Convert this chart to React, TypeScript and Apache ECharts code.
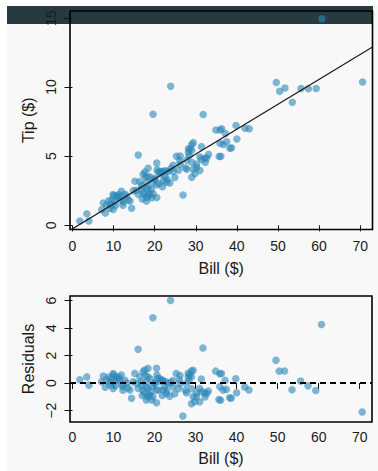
import React, { useEffect, useRef } from "react";
import * as echarts from "echarts";

const bill = [
  1.8, 3.5, 4.0, 7.1, 7.5, 8.0, 8.3, 8.8, 9.1, 9.3, 9.5, 9.9, 9.9, 10.0, 10.2, 10.5, 10.7, 11.0, 11.3, 11.5,
  11.9, 12.0, 12.3, 12.3, 12.8, 13.2, 13.5, 14.0, 14.4, 14.8, 15.2, 15.6, 16.0, 16.0, 16.4, 16.8, 16.8, 17.0, 17.2, 17.2,
  17.5, 17.6, 17.8, 18.0, 18.0, 18.0, 18.2, 18.4, 18.4, 18.4, 18.6, 18.8, 19.0, 19.2, 19.3, 19.5, 19.6, 19.6, 20.0, 20.1,
  20.5, 20.5, 20.5, 20.6, 20.8, 21.0, 21.3, 21.5, 21.7, 21.9, 22.1, 22.1, 22.5, 22.8, 22.9, 23.0, 23.3, 23.7, 23.9, 24.0,
  24.5, 24.5, 24.9, 25.3, 25.8, 26.1, 26.2, 26.2, 26.9, 27.5, 27.8, 27.8, 28.2, 28.2, 28.4, 28.6, 29.0, 29.0, 29.0, 29.0,
  29.4, 29.4, 29.8, 30.2, 30.2, 31.0, 31.0, 31.4, 31.4, 31.8, 32.2, 32.3, 32.7, 33.1, 34.9, 35.9, 36.3, 35.9, 35.7, 36.1,
  36.7, 37.2, 37.5, 38.3, 38.7, 39.8, 40.0, 42.0, 43.0, 49.6, 50.4, 51.7, 53.5, 55.6, 57.4, 59.3, 60.7, 70.6,
];
const tip = [
  0.32, 0.83, 0.32, 1.13, 1.61, 0.89, 1.46, 1.78, 1.24, 1.47, 1.8, 2.23, 1.14, 2.15, 1.69, 1.44, 2.14, 2.03, 2.23, 2.04,
  2.47, 1.81, 1.69, 1.45, 2.25, 2.11, 1.83, 1.76, 1.23, 2.51, 3.19, 2.54, 5.08, 2.24, 3.16, 2.62, 2.87, 1.91, 3.67, 2.34,
  2.2, 3.86, 3.5, 3.09, 2.69, 1.76, 2.03, 4.13, 3.52, 2.67, 2.2, 2.26, 3.47, 2.61, 1.99, 3.06, 2.29, 8.03, 3.35, 3.35,
  4.51, 2.93, 2.01, 4.04, 3.84, 3.03, 3.89, 3.72, 3.88, 2.79, 3.92, 3.22, 3.53, 3.95, 3.12, 3.34, 3.89, 3.06, 10.05, 4.12,
  4.35, 3.89, 3.46, 5.0, 3.99, 4.67, 5.02, 4.42, 2.19, 4.17, 4.73, 4.05, 5.53, 5.26, 5.05, 5.53, 5.84, 5.43, 4.56, 3.47,
  5.98, 4.05, 3.75, 4.44, 4.19, 4.94, 3.97, 5.69, 4.77, 8.02, 4.85, 4.56, 4.87, 5.13, 6.9, 6.89, 6.98, 5.94, 4.98, 5.0,
  5.85, 6.64, 6.04, 5.58, 5.61, 7.22, 6.25, 7.02, 6.99, 10.33, 9.69, 9.93, 8.9, 9.9, 9.88, 9.89, 14.94, 10.36,
];

// least-squares line
const fitIntercept = -0.25;
const fitSlope = 0.18;

const billTicks = [0, 10, 20, 30, 40, 50, 60, 70];
const tipTicks = [0, 5, 10, 15];
const residTicks = [-2, 0, 2, 4, 6];

const FONT = "Liberation Sans, Arial, sans-serif";
const TXT = "#1a1a1a";
const DOT = "rgba(44,135,184,0.75)";

export default function App() {
  const ref = useRef<HTMLDivElement>(null);
  useEffect(() => {
    if (!ref.current) return;
    const chart = echarts.init(ref.current, null, { renderer: "svg" });
    const xMin = -0.6;
    const xMax = 73;
    const scatterTop = bill.map((b, i) => [b, tip[i]]);
    const resid = bill.map((b, i) => [b, +(tip[i] - (fitIntercept + fitSlope * b)).toFixed(3)]);
    const fitLine = [
      [xMin, fitIntercept + fitSlope * xMin],
      [xMax, fitIntercept + fitSlope * xMax],
    ];

    const xAxisBase = (gridIndex: number, labelMargin: number, nameGap: number) => ({
      type: "value",
      gridIndex,
      min: xMin,
      max: xMax,
      name: "Bill ($)",
      nameLocation: "middle",
      nameGap,
      nameTextStyle: { fontFamily: FONT, fontSize: 16, color: TXT },
      axisLine: { show: false },
      splitLine: { show: false },
      axisTick: { show: true, customValues: billTicks, length: 6, lineStyle: { color: "#111", width: 1 } },
      axisLabel: {
        customValues: billTicks,
        margin: labelMargin,
        fontFamily: FONT,
        fontSize: 14,
        color: TXT,
        formatter: (v: number) => String(v).replace("-", "\u2212"),
      },
    });

    const yAxisBase = (gridIndex: number, min: number, max: number, ticks: number[], name: string) => ({
      type: "value",
      gridIndex,
      min,
      max,
      name,
      nameLocation: "middle",
      nameGap: 32,
      nameRotate: 90,
      nameTextStyle: { fontFamily: FONT, fontSize: 16, color: TXT },
      axisLine: { show: false },
      splitLine: { show: false },
      axisTick: { show: true, customValues: ticks, length: 8, lineStyle: { color: "#111", width: 1 } },
      axisLabel: {
        customValues: ticks,
        rotate: 90,
        margin: 12,
        fontFamily: FONT,
        fontSize: 14,
        color: TXT,
        formatter: (v: number) => String(v).replace("-", "\u2212"),
      },
    });

    chart.setOption({
      animation: false,
      graphic: [
        { type: "rect", z: -10, shape: { x: 7, y: 6, width: 371, height: 465 }, style: { fill: "#f8f8f8" }, silent: true },
        { type: "rect", z: -9, shape: { x: 7, y: 6, width: 366, height: 18 }, style: { fill: "#263a40" }, silent: true },
      ],
      grid: [
        { left: 70, top: 11, right: 5.5, height: 218.5, show: true, borderColor: "#000", borderWidth: 1.6, backgroundColor: "transparent", z: 1 },
        { left: 70, top: 296, right: 6, height: 126, show: true, borderColor: "#000", borderWidth: 1.6, backgroundColor: "transparent", z: 1 },
      ],
      xAxis: [xAxisBase(0, 9, 31), xAxisBase(1, 8, 28)],
      yAxis: [
        yAxisBase(0, -0.3, 15.5, tipTicks, "Tip ($)"),
        yAxisBase(1, -2.83, 6.33, residTicks, "Residuals"),
      ],
      series: [
        {
          type: "scatter",
          xAxisIndex: 0,
          yAxisIndex: 0,
          data: scatterTop,
          symbolSize: 7.5,
          itemStyle: { color: DOT },
          z: 2,
        },
        {
          type: "line",
          xAxisIndex: 0,
          yAxisIndex: 0,
          data: fitLine,
          showSymbol: false,
          symbol: "none",
          clip: true,
          lineStyle: { color: "#1a1a1a", width: 1.2 },
          z: 3,
        },
        {
          type: "scatter",
          xAxisIndex: 1,
          yAxisIndex: 1,
          data: resid,
          symbolSize: 7.5,
          itemStyle: { color: DOT },
          z: 2,
          markLine: {
            silent: true,
            symbol: "none",
            label: { show: false },
            lineStyle: { color: "#000", width: 2, type: [6, 4] },
            data: [{ yAxis: 0 }],
            z: 4,
          },
        },
      ],
    });
    return () => chart.dispose();
  }, []);

  return (
    <div style={{ position: "absolute", left: 0, top: 0, width: 378, height: 471, background: "#fff" }}>
      <div ref={ref} style={{ width: 378, height: 471 }} />
    </div>
  );
}
